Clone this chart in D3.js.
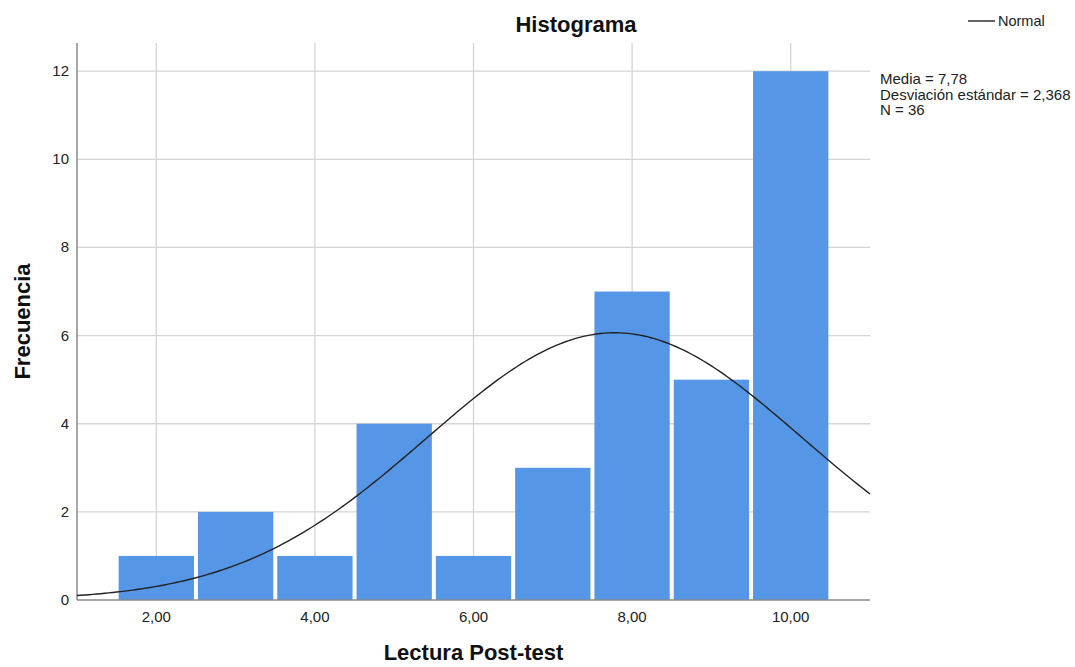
<!DOCTYPE html>
<html>
<head>
<meta charset="utf-8">
<script src="https://cdn.jsdelivr.net/npm/d3@7"></script>
<style>
  body { margin: 0; background: #fff; }
  svg { display: block; font-family: 'Liberation Sans', Arial, sans-serif; }
</style>
</head>
<body>
<div id="chart"></div>
<script>
// Histogram bins (center of each bin, width 1) and their counts
const binCenters = [2, 3, 4, 5, 6, 7, 8, 9, 10]
const counts = [1, 2, 1, 4, 1, 3, 7, 5, 12]
const binWidth = 1

// Summary stats printed by SPSS, also used for the normal curve
const mean = 7.78
const sd = 2.368
const n = 36

const xTicks = [2, 4, 6, 8, 10]
const yTicks = [0, 2, 4, 6, 8, 10, 12]
const statLines = ['Media = 7,78', 'Desviación estándar = 2,368', 'N = 36']

const W = 1075, H = 667
const plot = { left: 77, right: 870, top: 43, bottom: 600 }

const svg = d3.select('#chart').append('svg')
  .attr('width', W).attr('height', H)

const x = d3.scaleLinear().domain([1, 11]).range([plot.left, plot.right])
const y = d3.scaleLinear().domain([0, 12.64]).range([plot.bottom, plot.top])

const fmt = d => d.toFixed(2).replace('.', ',')

// grid
svg.append('g').selectAll('line').data(xTicks).join('line')
  .attr('x1', d => x(d)).attr('x2', d => x(d))
  .attr('y1', plot.top).attr('y2', plot.bottom)
  .attr('stroke', '#d4d4d4').attr('stroke-width', 1.3)
svg.append('g').selectAll('line').data(yTicks.filter(d => d > 0)).join('line')
  .attr('x1', plot.left).attr('x2', plot.right)
  .attr('y1', d => y(d)).attr('y2', d => y(d))
  .attr('stroke', '#d4d4d4').attr('stroke-width', 1.3)

// bars
svg.append('g').selectAll('rect').data(binCenters).join('rect')
  .attr('x', d => x(d - binWidth / 2) + 2)
  .attr('width', x(binWidth) - x(0) - 4)
  .attr('y', (d, i) => y(counts[i]))
  .attr('height', (d, i) => y(0) - y(counts[i]))
  .attr('fill', '#5596e6')

// axes (SPSS style: plain lines, no tick marks)
svg.append('line')
  .attr('x1', plot.left).attr('x2', plot.left).attr('y1', plot.top).attr('y2', plot.bottom)
  .attr('stroke', '#8a8a8a').attr('stroke-width', 1.5)
svg.append('line')
  .attr('x1', plot.left).attr('x2', plot.right).attr('y1', plot.bottom).attr('y2', plot.bottom)
  .attr('stroke', '#8a8a8a').attr('stroke-width', 1.5)

svg.append('g').selectAll('text').data(xTicks).join('text')
  .attr('x', d => x(d)).attr('y', plot.bottom + 22)
  .attr('text-anchor', 'middle')
  .style('font-size', '15px').attr('fill', '#222')
  .text(fmt)
svg.append('g').selectAll('text').data(yTicks).join('text')
  .attr('x', plot.left - 8).attr('y', d => y(d) + 5)
  .attr('text-anchor', 'end')
  .style('font-size', '15px').attr('fill', '#222')
  .text(d => d)

// normal curve scaled to counts
const scale = n * binWidth / (sd * Math.sqrt(2 * Math.PI))
const curve = d3.range(1, 11.001, 0.05).map(v => [v, scale * Math.exp(-0.5 * ((v - mean) / sd) ** 2)])
svg.append('path')
  .datum(curve)
  .attr('fill', 'none')
  .attr('stroke', '#222')
  .attr('stroke-width', 1.4)
  .attr('d', d3.line().x(d => x(d[0])).y(d => y(d[1])))

// titles
svg.append('text')
  .attr('x', 576).attr('y', 32).attr('text-anchor', 'middle')
  .style('font-size', '22px').style('font-weight', 'bold').attr('fill', '#111')
  .text('Histograma')
svg.append('text')
  .attr('x', (plot.left + plot.right) / 2).attr('y', 660).attr('text-anchor', 'middle')
  .style('font-size', '22px').style('font-weight', 'bold').attr('fill', '#111')
  .text('Lectura Post-test')
svg.append('text')
  .attr('transform', `translate(30,${(plot.top + plot.bottom) / 2}) rotate(-90)`)
  .attr('text-anchor', 'middle')
  .style('font-size', '22px').style('font-weight', 'bold').attr('fill', '#111')
  .text('Frecuencia')

// legend
svg.append('line')
  .attr('x1', 968).attr('x2', 995).attr('y1', 21).attr('y2', 21)
  .attr('stroke', '#222').attr('stroke-width', 1.4)
svg.append('text')
  .attr('x', 998).attr('y', 26)
  .style('font-size', '14.5px').attr('fill', '#222')
  .text('Normal')

svg.append('g').selectAll('text').data(statLines).join('text')
  .attr('x', 880).attr('y', (d, i) => 84 + i * 15.5)
  .style('font-size', '15px').attr('fill', '#222')
  .text(d => d)
</script>
</body>
</html>
